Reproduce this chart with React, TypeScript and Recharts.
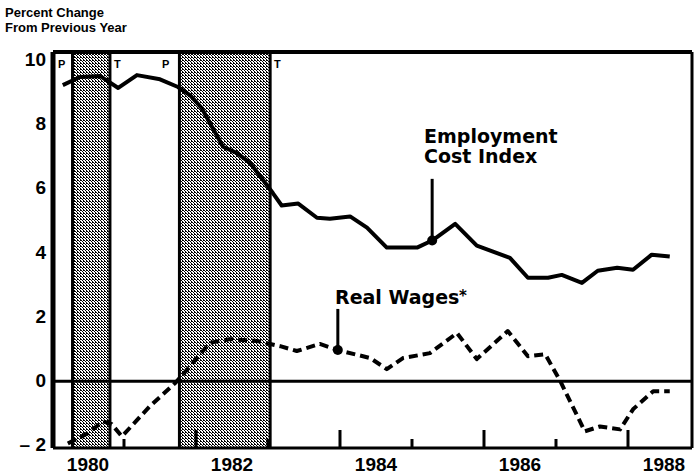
import React from 'react';
import { LineChart, Line, XAxis, YAxis, ReferenceArea, ReferenceLine, ReferenceDot } from 'recharts';

// Employment Cost Index (percent change from previous year)
const eciDates = [1979.65, 1979.89, 1980.17, 1980.42, 1980.68, 1981.0, 1981.25, 1981.42, 1981.58, 1981.875, 1982.07, 1982.25, 1982.57, 1982.69, 1982.92, 1983.18, 1983.36, 1983.64, 1983.875, 1984.15, 1984.57, 1984.78, 1985.1, 1985.4, 1985.86, 1986.11, 1986.39, 1986.58, 1986.86, 1987.08, 1987.35, 1987.57, 1987.83, 1988.08];
const eciValues = [9.22, 9.47, 9.5, 9.13, 9.53, 9.4, 9.16, 8.9, 8.5, 7.3, 7.1, 6.8, 5.85, 5.47, 5.53, 5.09, 5.06, 5.13, 4.78, 4.16, 4.16, 4.38, 4.9, 4.22, 3.84, 3.22, 3.22, 3.31, 3.06, 3.44, 3.53, 3.47, 3.94, 3.88];

// Real wages (percent change from previous year)
const wageDates = [1979.72, 1979.99, 1980.21, 1980.33, 1980.47, 1980.86, 1981.21, 1981.42, 1981.69, 1981.97, 1982.35, 1982.67, 1982.9, 1983.22, 1983.47, 1983.92, 1984.15, 1984.375, 1984.75, 1985.125, 1985.4, 1985.83, 1986.11, 1986.35, 1986.56, 1986.9, 1987.11, 1987.39, 1987.57, 1987.85, 1988.08];
const wageValues = [-1.94, -1.63, -1.25, -1.34, -1.72, -0.78, -0.06, 0.47, 1.19, 1.31, 1.25, 1.09, 0.94, 1.16, 0.97, 0.72, 0.375, 0.72, 0.875, 1.5, 0.69, 1.56, 0.78, 0.84, 0, -1.56, -1.41, -1.5, -0.875, -0.31, -0.31];

const yTicks = [10, 8, 6, 4, 2, 0, -2];
const yearLabels = [1980, 1982, 1984, 1986, 1988];
const yearMarks = [1980.5, 1981.5, 1982.5, 1983.5, 1984.5, 1985.5, 1986.5, 1987.5];
const recessionPeaks = [1979.785, 1981.27];
const recessionTroughs = [1980.305, 1982.53];
const eciPointer = { t: 1984.78, v: 4.38, top: 6.3 };
const wagePointer = { t: 1983.47, v: 0.97, top: 2.25 };

const X_MIN = 1979.514;
const X_MAX = 1988.389;
const Y_MIN = -2.08;
const Y_MAX = 10.25;

const eciData = eciDates.map((t, i) => ({ t, v: eciValues[i] }));
const wageData = wageDates.map((t, i) => ({ t, v: wageValues[i] }));
const allXTicks = [...yearLabels, ...yearMarks].sort((a, b) => a - b);

const XTick = (props: any) => {
  const { x, y, payload } = props;
  const v = payload.value;
  if (yearLabels.includes(v)) {
    return (
      <text x={x} y={y + 23} textAnchor="middle" fontFamily="Liberation Sans, Arial, sans-serif" fontWeight="bold" fontSize={19} fill="#000">
        {v}
      </text>
    );
  }
  const tall = Math.floor(v) % 2 === 1;
  return <line x1={x} x2={x} y1={y} y2={y - (tall ? 18 : 9)} stroke="#000" strokeWidth={3} />;
};

const YTick = (props: any) => {
  const { x, y, payload } = props;
  const v = payload.value;
  const label = v < 0 ? `\u2013 ${Math.abs(v)}` : `${v}`;
  return (
    <text x={x} y={y + 6} textAnchor="end" fontFamily="Liberation Sans, Arial, sans-serif" fontWeight="bold" fontSize={19} fill="#000">
      {label}
    </text>
  );
};

const font = 'DejaVu Sans, sans-serif';
const sans = 'Liberation Sans, Arial, sans-serif';

export default function App() {
  return (
    <div style={{ position: 'absolute', left: 0, top: 0, width: 695, height: 474, background: '#fff' }}>
      <LineChart width={695} height={474} margin={{ top: 52, right: 3, bottom: 0, left: 0 }}>
        <defs>
          <pattern id="stipple" width="3" height="3" patternUnits="userSpaceOnUse">
            <rect x="0" y="0" width="3" height="3" fill="#fff" shapeRendering="crispEdges" />
            <rect x="0" y="0" width="1" height="1" fill="#000" shapeRendering="crispEdges" />
            <rect x="1" y="1" width="1" height="1" fill="#000" shapeRendering="crispEdges" />
            <rect x="2" y="2" width="1" height="1" fill="#000" shapeRendering="crispEdges" />
            <rect x="2" y="0" width="1" height="1" fill="#000" shapeRendering="crispEdges" />
          </pattern>
        </defs>
        <XAxis
          dataKey="t"
          type="number"
          domain={[X_MIN, X_MAX]}
          allowDataOverflow
          ticks={allXTicks}
          interval={0}
          tick={<XTick />}
          tickLine={false}
          tickSize={0}
          tickMargin={0}
          height={26}
          axisLine={{ stroke: '#000', strokeWidth: 3 }}
        />
        <YAxis
          type="number"
          domain={[Y_MIN, Y_MAX]}
          allowDataOverflow
          ticks={yTicks}
          interval={0}
          tick={<YTick />}
          tickLine={false}
          tickSize={0}
          tickMargin={7}
          width={53}
          axisLine={{ stroke: '#000', strokeWidth: 5 }}
        />
        {recessionPeaks.map((p, i) => (
          <ReferenceArea key={`ra${i}`} x1={p} x2={recessionTroughs[i]} y1={Y_MIN} y2={Y_MAX} fill="url(#stipple)" fillOpacity={1} stroke="none" ifOverflow="hidden" />
        ))}
        {[...recessionPeaks, ...recessionTroughs].map((p, i) => (
          <ReferenceLine key={`rl${i}`} x={p} stroke="#000" strokeWidth={3} />
        ))}
        <ReferenceLine y={0} stroke="#000" strokeWidth={3} />
        <ReferenceLine y={Y_MAX} stroke="#000" strokeWidth={4} />
        <ReferenceLine x={X_MAX} stroke="#000" strokeWidth={3} />
        <ReferenceLine segment={[{ x: eciPointer.t, y: eciPointer.v }, { x: eciPointer.t, y: eciPointer.top }]} stroke="#000" strokeWidth={3} />
        <ReferenceLine segment={[{ x: wagePointer.t, y: wagePointer.v }, { x: wagePointer.t, y: wagePointer.top }]} stroke="#000" strokeWidth={3} />
        <Line data={eciData} dataKey="v" type="linear" stroke="#000" strokeWidth={4} dot={false} isAnimationActive={false} strokeLinejoin="round" />
        <Line data={wageData} dataKey="v" type="linear" stroke="#000" strokeWidth={4} strokeDasharray="9 5" dot={false} isAnimationActive={false} strokeLinejoin="round" />
        <ReferenceDot x={eciPointer.t} y={eciPointer.v} r={5} fill="#000" stroke="none" />
        <ReferenceDot x={wagePointer.t} y={wagePointer.v} r={5} fill="#000" stroke="none" />
      </LineChart>
      <svg width={695} height={474} style={{ position: 'absolute', left: 0, top: 0, pointerEvents: 'none' }}>
        <text x={5} y={17} fontFamily={sans} fontWeight="bold" fontSize={13} fill="#000">Percent Change</text>
        <text x={5} y={32} fontFamily={sans} fontWeight="bold" fontSize={13} fill="#000">From Previous Year</text>
        <text x={58} y={68} fontFamily={sans} fontWeight="bold" fontSize={11} fill="#000">P</text>
        <text x={114} y={68} fontFamily={sans} fontWeight="bold" fontSize={11} fill="#000">T</text>
        <text x={162} y={68} fontFamily={sans} fontWeight="bold" fontSize={11} fill="#000">P</text>
        <text x={274} y={68} fontFamily={sans} fontWeight="bold" fontSize={11} fill="#000">T</text>
        <text x={424} y={143} fontFamily={font} fontWeight="bold" fontSize={19} fill="#000">Employment</text>
        <text x={424} y={163} fontFamily={font} fontWeight="bold" fontSize={19} fill="#000">Cost Index</text>
        <text x={335} y={304} fontFamily={font} fontWeight="bold" fontSize={19} fill="#000">Real Wages</text>
        <text x={459} y={301} fontFamily={font} fontWeight="bold" fontSize={15} fill="#000">*</text>
      </svg>
    </div>
  );
}
